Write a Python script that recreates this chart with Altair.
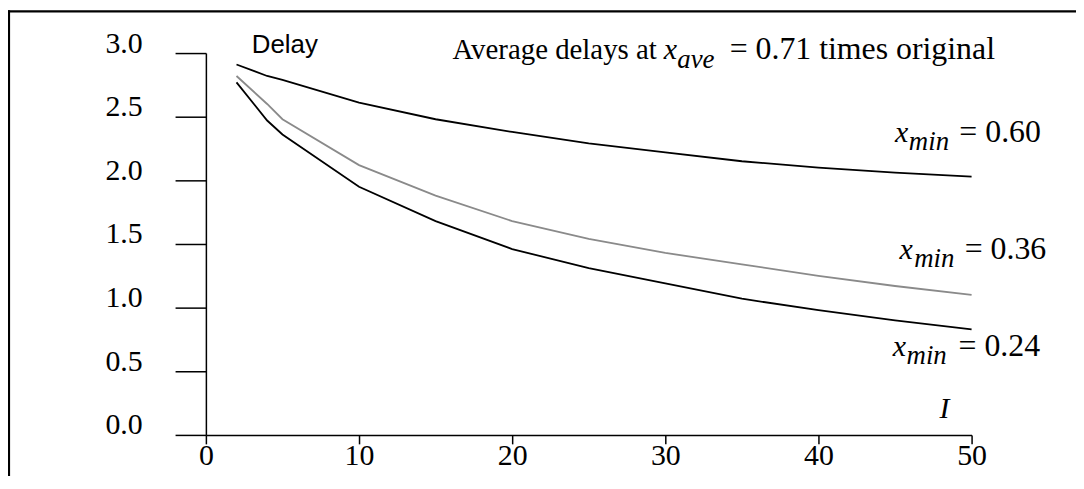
import altair as alt
import pandas as pd

# ---- data ----
I_vals = [2, 4, 5, 10, 15, 20, 25, 30, 35, 40, 45, 50]
delay_060 = [2.91, 2.82, 2.79, 2.61, 2.48, 2.38, 2.29, 2.22, 2.15, 2.10, 2.06, 2.03]
delay_036 = [2.82, 2.60, 2.48, 2.12, 1.88, 1.68, 1.54, 1.43, 1.34, 1.25, 1.17, 1.10]
delay_024 = [2.77, 2.47, 2.36, 1.95, 1.68, 1.46, 1.31, 1.19, 1.07, 0.98, 0.90, 0.83]
series_names = ["xmin = 0.60", "xmin = 0.36", "xmin = 0.24"]
series_colors = ["#000000", "#8a8a8a", "#000000"]
x_ticks = [0, 10, 20, 30, 40, 50]
y_ticks = [0.0, 0.5, 1.0, 1.5, 2.0, 2.5, 3.0]

# annotation pieces (text, anchor in data units, style)
note_text = ["Delay",
             "Average delays at", "x", "ave", "= 0.71 times original",
             "x", "min", "= 0.60",
             "x", "min", "= 0.36",
             "x", "min", "= 0.24",
             "I"]
note_x = [3.0,
          16.1, 29.9, 30.78, 34.2,
          45.0, 45.9, 49.2,
          45.3, 46.25, 49.55,
          44.85, 45.75, 49.15,
          47.9]
note_y = [3.0,
          2.95, 2.95, 2.88, 2.95,
          2.30, 2.24, 2.30,
          1.38, 1.32, 1.38,
          0.62, 0.56, 0.62,
          0.133]
note_style = ["sans",
              "roman", "italic", "sub", "big",
              "italic", "sub", "big",
              "italic", "sub", "big",
              "italic", "sub", "big",
              "italic"]

rows = []
for name, vals in zip(series_names, [delay_060, delay_036, delay_024]):
    for i, v in zip(I_vals, vals):
        rows.append({"I": i, "delay": v, "series": name})
df = pd.DataFrame(rows)
notes = pd.DataFrame({"text": note_text, "x": note_x, "y": note_y, "style": note_style})

W, H = 770, 384
SERIF = "Liberation Serif"
xs = alt.Scale(domain=[0, 50], nice=False, zero=False)
ys = alt.Scale(domain=[0, 3], nice=False, zero=False)
x_axis = alt.Axis(values=x_ticks, format="d", title=None, grid=False,
                  tickSize=9, labelPadding=-3, labelBaseline="top",
                  labelFont=SERIF, labelFontSize=30, labelColor="black",
                  labelFlush=False, labelOverlap=False)
y_axis = alt.Axis(values=y_ticks, format=".1f", title=None, grid=False,
                  tickSize=31, labelPadding=33, labelBaseline="alphabetic",
                  labelOffset=-1,
                  labelFont=SERIF, labelFontSize=30, labelColor="black",
                  labelFlush=False, labelOverlap=False)

lines = alt.Chart(df).mark_line(strokeWidth=1.8).encode(
    x=alt.X("I:Q", scale=xs, axis=x_axis),
    y=alt.Y("delay:Q", scale=ys, axis=y_axis),
    color=alt.Color("series:N", scale=alt.Scale(domain=series_names, range=series_colors),
                    legend=None),
    detail="series:N",
)

base_notes = alt.Chart(notes)


def note_layer(style, **mark_kw):
    return base_notes.transform_filter(alt.datum.style == style).mark_text(
        align="left", baseline="alphabetic", color="black", **mark_kw
    ).encode(
        x=alt.X("x:Q", scale=xs, axis=x_axis),
        y=alt.Y("y:Q", scale=ys, axis=y_axis),
        text="text:N",
    )


t_sans = note_layer("sans", font="Liberation Sans", fontSize=26)
t_roman = note_layer("roman", font=SERIF, fontSize=29)
t_big = note_layer("big", font=SERIF, fontSize=32)
t_italic = note_layer("italic", font=SERIF, fontSize=30, fontStyle="italic")
t_sub = note_layer("sub", font=SERIF, fontSize=27, fontStyle="italic")

one = pd.DataFrame({"a": [0]})
frame_v = alt.Chart(one).mark_rule(color="black", strokeWidth=2.2).encode(
    x=alt.value(-198), y=alt.value(-43), y2=alt.value(H + 80))
frame_h = alt.Chart(one).mark_rule(color="black", strokeWidth=2.2).encode(
    y=alt.value(-42), x=alt.value(-199), x2=alt.value(W + 140))

chart = alt.layer(lines, t_sans, t_roman, t_big, t_italic, t_sub, frame_v, frame_h).properties(
    width=W, height=H,
    autosize=alt.AutoSizeParams(type="none"),
    padding={"left": 199, "top": 44, "right": 105, "bottom": 40},
).configure_view(stroke=None).configure_axis(
    domainColor="black", domainWidth=1.5, tickColor="black", tickWidth=1.5,
)

chart.save("out.html", embed_options={"renderer": "svg", "actions": False})
